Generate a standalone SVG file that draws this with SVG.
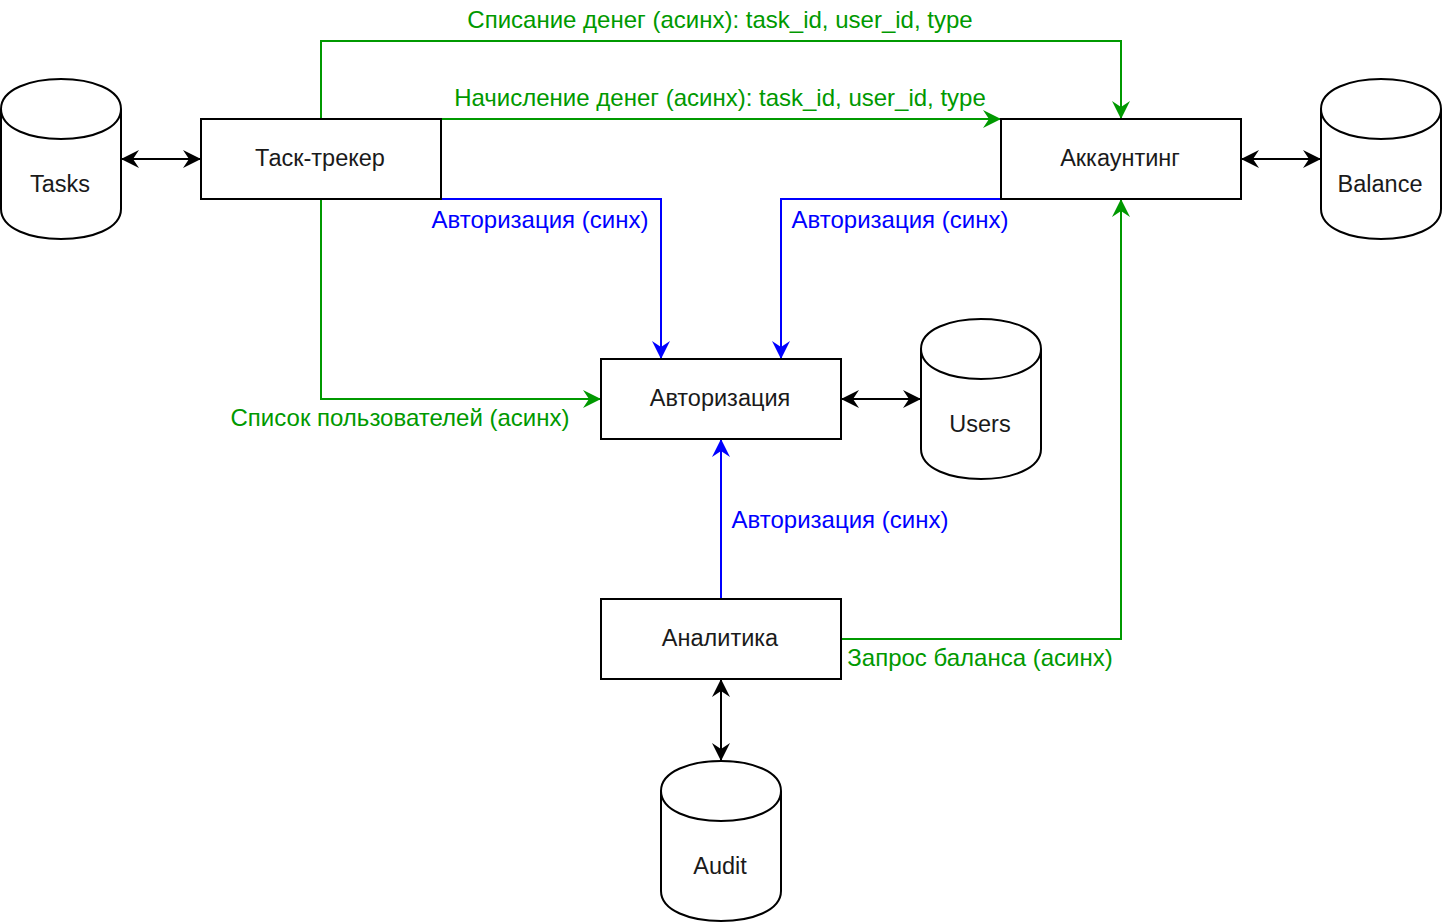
<svg xmlns="http://www.w3.org/2000/svg" width="1442" height="922" viewBox="0 0 1442 922">
<style>
.box{fill:#fff;stroke:#000;stroke-width:2}
.db{fill:#fff;stroke:#000;stroke-width:2}
.t{font-family:"Liberation Sans",Arial,sans-serif;font-size:23.5px;fill:#1a1a1a;text-anchor:middle;dominant-baseline:central}
.lg{font-family:"Liberation Sans",Arial,sans-serif;font-size:24px;fill:#009900;dominant-baseline:central}
.lb{font-family:"Liberation Sans",Arial,sans-serif;font-size:24px;fill:#0000ff;dominant-baseline:central}
.k{fill:none;stroke:#000;stroke-width:2}
.g{fill:none;stroke:#009900;stroke-width:2}
.b{fill:none;stroke:#0000ff;stroke-width:2}
</style>
<defs>
<marker id="ak" markerUnits="userSpaceOnUse" viewBox="-19 -10 20 20" refX="0" refY="0" markerWidth="20" markerHeight="20" orient="auto-start-reverse"><path d="M0,0 L-18,-9 L-12,0 L-18,9 Z" fill="#000"/></marker>
<marker id="ag" markerUnits="userSpaceOnUse" viewBox="-19 -10 20 20" refX="0" refY="0" markerWidth="20" markerHeight="20" orient="auto"><path d="M0,0 L-18,-9 L-12,0 L-18,9 Z" fill="#009900"/></marker>
<marker id="ab" markerUnits="userSpaceOnUse" viewBox="-19 -10 20 20" refX="0" refY="0" markerWidth="20" markerHeight="20" orient="auto"><path d="M0,0 L-18,-9 L-12,0 L-18,9 Z" fill="#0000ff"/></marker>
</defs>
<rect width="1442" height="922" fill="#fff"/>
<g id="connectors">
<path class="k" d="M121,159 L201,159" marker-start="url(#ak)" marker-end="url(#ak)"/>
<path class="k" d="M1241,159 L1321,159" marker-start="url(#ak)" marker-end="url(#ak)"/>
<path class="k" d="M841,399 L921,399" marker-start="url(#ak)" marker-end="url(#ak)"/>
<path class="k" d="M721,679 L721,761" marker-start="url(#ak)" marker-end="url(#ak)"/>
<path class="g" d="M321,119 L321,41 L1121,41 L1121,119" marker-end="url(#ag)"/>
<path class="g" d="M441,119 L1001,119" marker-end="url(#ag)"/>
<path class="b" d="M441,199 L661,199 L661,359" marker-end="url(#ab)"/>
<path class="b" d="M1001,199 L781,199 L781,359" marker-end="url(#ab)"/>
<path class="g" d="M321,199 L321,399 L601,399" marker-end="url(#ag)"/>
<path class="b" d="M721,599 L721,439" marker-end="url(#ab)"/>
<path class="g" d="M841,639 L1121,639 L1121,199" marker-end="url(#ag)"/>
<text class="lg" x="720" y="19" text-anchor="middle">Списание денег (асинх): task_id, user_id, type</text>
<text class="lg" x="720" y="97" text-anchor="middle">Начисление денег (асинх): task_id, user_id, type</text>
<text class="lb" x="540" y="219" text-anchor="middle">Авторизация (синх)</text>
<text class="lb" x="900" y="219" text-anchor="middle">Авторизация (синх)</text>
<text class="lg" x="400" y="417" text-anchor="middle">Список пользователей (асинх)</text>
<text class="lb" x="840" y="519" text-anchor="middle">Авторизация (синх)</text>
<text class="lg" x="980" y="657" text-anchor="middle">Запрос баланса (асинх)</text>
</g>
<g id="tasks">
<path class="db" d="M1,109 C1,69 121,69 121,109 L121,209 C121,249 1,249 1,209 Z"/>
<path class="k" d="M1,109 C1,149 121,149 121,109"/>
<text class="t" x="60" y="184">Tasks</text>
</g>
<g id="balance">
<path class="db" d="M1321,109 C1321,69 1441,69 1441,109 L1441,209 C1441,249 1321,249 1321,209 Z"/>
<path class="k" d="M1321,109 C1321,149 1441,149 1441,109"/>
<text class="t" x="1380" y="184">Balance</text>
</g>
<g id="users">
<path class="db" d="M921,349 C921,309 1041,309 1041,349 L1041,449 C1041,489 921,489 921,449 Z"/>
<path class="k" d="M921,349 C921,389 1041,389 1041,349"/>
<text class="t" x="980" y="424">Users</text>
</g>
<g id="audit">
<path class="db" d="M661,791 C661,751 781,751 781,791 L781,891 C781,931 661,931 661,891 Z"/>
<path class="k" d="M661,791 C661,831 781,831 781,791"/>
<text class="t" x="720" y="866">Audit</text>
</g>
<g id="task-tracker">
<rect class="box" x="201" y="119" width="240" height="80"/>
<text class="t" x="320" y="158">Таск-трекер</text>
</g>
<g id="accounting">
<rect class="box" x="1001" y="119" width="240" height="80"/>
<text class="t" x="1120" y="158">Аккаунтинг</text>
</g>
<g id="auth">
<rect class="box" x="601" y="359" width="240" height="80"/>
<text class="t" x="720" y="398">Авторизация</text>
</g>
<g id="analytics">
<rect class="box" x="601" y="599" width="240" height="80"/>
<text class="t" x="720" y="638">Аналитика</text>
</g>
</svg>
